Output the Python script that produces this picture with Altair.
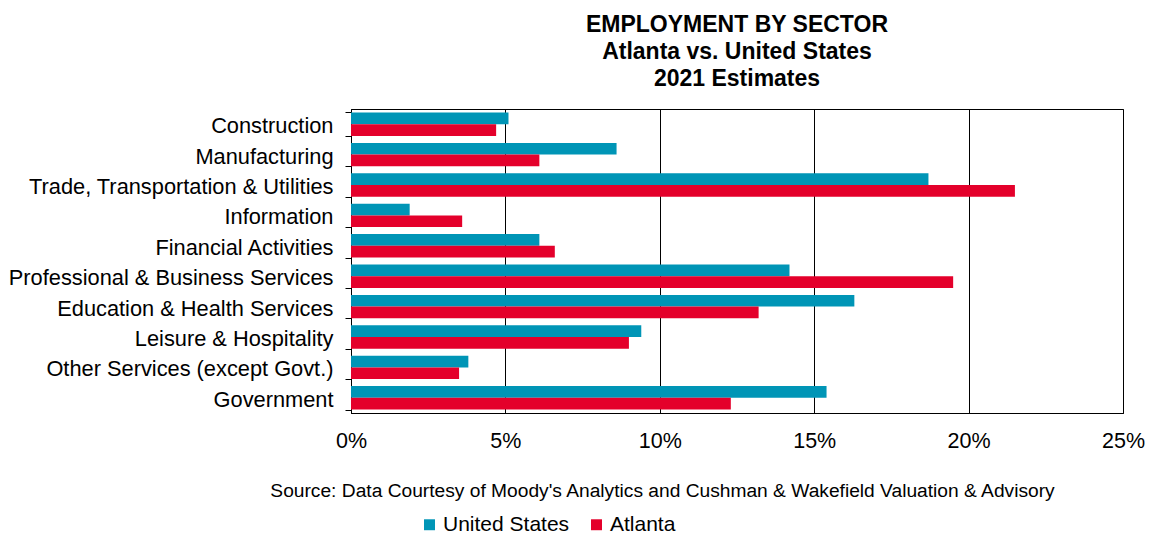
import altair as alt
import pandas as pd

sectors = [
    "Construction",
    "Manufacturing",
    "Trade, Transportation & Utilities",
    "Information",
    "Financial Activities",
    "Professional & Business Services",
    "Education & Health Services",
    "Leisure & Hospitality",
    "Other Services (except Govt.)",
    "Government",
]
us_values = [5.1, 8.6, 18.7, 1.9, 6.1, 14.2, 16.3, 9.4, 3.8, 15.4]
atlanta_values = [4.7, 6.1, 21.5, 3.6, 6.6, 19.5, 13.2, 9.0, 3.5, 12.3]
series_names = ["United States", "Atlanta"]
series_colors = ["#0095B6", "#E4002B"]
x_ticks = [0, 5, 10, 15, 20, 25]

rows = []
for s, u, a in zip(sectors, us_values, atlanta_values):
    rows.append({"Sector": s, "Series": "United States", "Value": u})
    rows.append({"Sector": s, "Series": "Atlanta", "Value": a})
df = pd.DataFrame(rows)

FONT = "Liberation Sans"

chart = (
    alt.Chart(df)
    .mark_bar()
    .encode(
        y=alt.Y(
            "Sector:N",
            sort=sectors,
            scale=alt.Scale(paddingInner=0.23, paddingOuter=0.115),
            axis=alt.Axis(
                title=None,
                tickBand="extent",
                ticks=True,
                tickSize=6,
                tickColor="#000000",
                domainColor="#000000",
                labelFontSize=21.8,
                labelFont=FONT,
                labelColor="#000000",
                labelPadding=12,
                labelOffset=1.5,
                grid=False,
                labelLimit=400,
            ),
        ),
        yOffset=alt.YOffset("Series:N", sort=series_names),
        x=alt.X(
            "Value:Q",
            scale=alt.Scale(domain=[0, 25], nice=False),
            axis=alt.Axis(
                values=x_ticks,
                labelExpr="datum.value + '%'",
                labelFlush=False,
                ticks=False,
                grid=True,
                gridColor="#000000",
                gridWidth=1,
                gridOpacity=1,
                domainColor="#000000",
                labelFontSize=21.5,
                labelFont=FONT,
                labelColor="#000000",
                labelPadding=17,
                title="Source: Data Courtesy of Moody's Analytics and Cushman & Wakefield Valuation & Advisory",
                titleFont=FONT,
                titleFontSize=19.2,
                titleFontWeight="normal",
                titleColor="#000000",
                titleX=311,
                titleY=77,
                titleAlign="center",
                titleBaseline="middle",
            ),
        ),
        color=alt.Color(
            "Series:N",
            scale=alt.Scale(domain=series_names, range=series_colors),
            legend=alt.Legend(
                title=None,
                orient="none",
                direction="horizontal",
                legendX=68,
                legendY=405,
                symbolType="square",
                symbolSize=120,
                symbolStrokeWidth=0,
                labelFont=FONT,
                labelFontSize=21,
                labelColor="#000000",
                labelOffset=3,
                columnPadding=16,
                padding=0,
            ),
        ),
    )
    .properties(
        width=772,
        height=304,
        padding={"left": 351, "top": 109, "right": 35, "bottom": 123},
        autosize=alt.AutoSizeParams(type="none"),
        title=alt.TitleParams(
            text=["EMPLOYMENT BY SECTOR", "Atlanta vs. United States", "2021 Estimates"],
            font=FONT,
            fontSize=23,
            fontWeight="bold",
            color="#000000",
            lineHeight=27,
            anchor="middle",
            offset=8,
        ),
    )
    .configure_view(stroke="#000000", strokeWidth=1)
)

chart.save("out.html", embed_options={"renderer": "svg", "actions": False})
